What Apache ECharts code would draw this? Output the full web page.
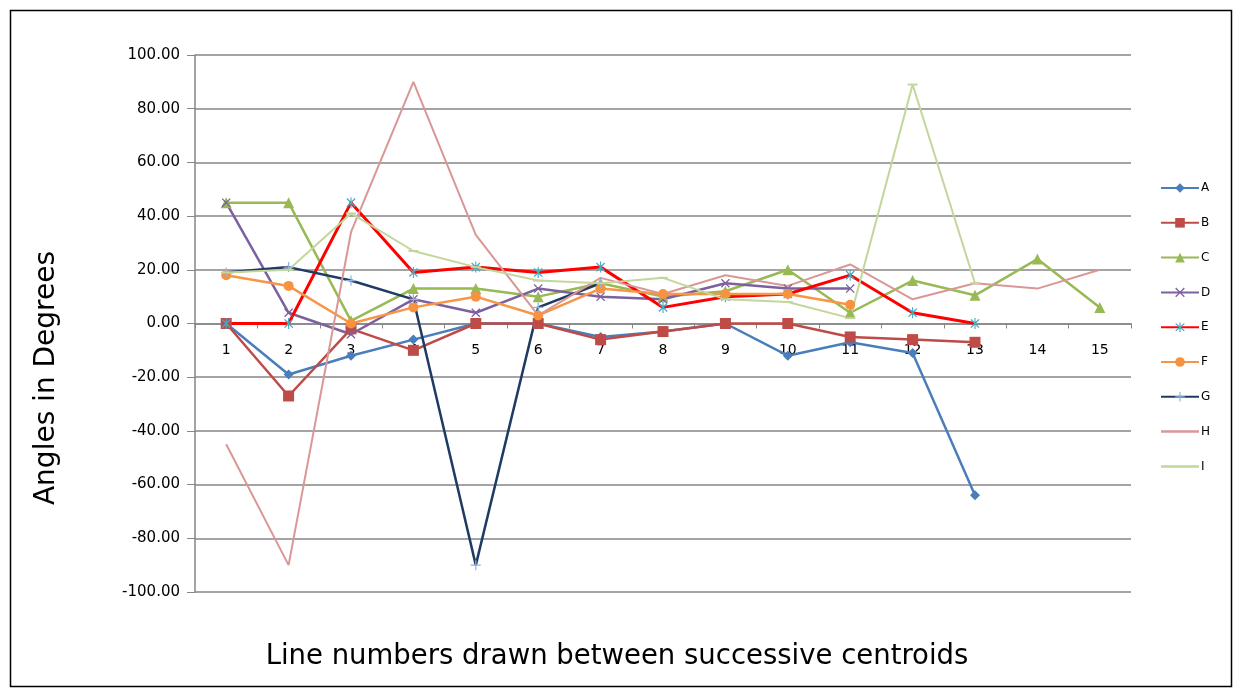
<!DOCTYPE html>
<html>
<head>
<meta charset="utf-8">
<script src="https://cdn.jsdelivr.net/npm/echarts@6/dist/echarts.min.js"></script>
<style>
html,body{margin:0;padding:0;background:#fff;}
#c{width:1237px;height:690px;}
</style>
</head>
<body>
<div id="c"></div>
<script>
const categories = ['1','2','3','4','5','6','7','8','9','10','11','12','13','14','15'];
const seriesNames = ['A','B','C','D','E','F','G','H','I'];
const A = [0,-19,-12,-6,0,0,-5,-3,0,-12,-7,-11,-64];
const B = [0,-27,-2,-10,0,0,-6,-3,0,0,-5,-6,-7];
const C = [45,45,1,13,13,10,15,10,12,20,4,16,10.5,24,6];
const D = [45,4,-4,9,4,13,10,9,15,13,13];
const E = [0,0,45,19,21,19,21,6,10,11,18,4,0];
const F = [18,14,0,6,10,3,13,11,11,11,7];
const G = [19,21,16,9,-90,6,15];
const H = [-45,-90,34,90,33,3,17,11,18,14,22,9,15,13,20];
const I = [19,20,41,27,21,16,15,17,9,8,2,89,15];
const yTicks = [-100,-80,-60,-40,-20,0,20,40,60,80,100];

const xPath = 'path://M1,0 L5,4 L9,0 L10,1 L6,5 L10,9 L9,10 L5,6 L1,10 L0,9 L4,5 L0,1 Z';
const starPath = 'path://M1,0 L5,4 L9,0 L10,1 L6,5 L10,9 L9,10 L5,6 L1,10 L0,9 L4,5 L0,1 Z M4.4,-1 L5.6,-1 L5.6,11 L4.4,11 Z';
const plusPath = 'path://M4.4,0 L5.6,0 L5.6,4.4 L10,4.4 L10,5.6 L5.6,5.6 L5.6,10 L4.4,10 L4.4,5.6 L0,5.6 L0,4.4 L4.4,4.4 Z';
const dashPath = 'path://M0,0 L10,0 L10,2 L0,2 Z';
const lineIcon = 'path://M0,0 L38,0 L38,2.5 L0,2.5 Z';

const data = {A,B,C,D,E,F,G,H,I};
const styles = {
  A:{line:'#4A7EBB', item:'#4A7EBB', symbol:'diamond', size:10, w:2.5},
  B:{line:'#BE4B48', item:'#BE4B48', symbol:'rect', size:11, w:2.5},
  C:{line:'#98B954', item:'#98B954', symbol:'triangle', size:11, w:2.5},
  D:{line:'#7D60A0', item:'#7D60A0', symbol:xPath, size:9, w:2.5},
  E:{line:'#FF0000', item:'#46AAC5', symbol:starPath, size:11, w:3},
  F:{line:'#F79646', item:'#F69240', symbol:'circle', size:10, w:2.5},
  G:{line:'#1F3B63', item:'#8DB3E2', symbol:plusPath, size:10, w:2.5},
  H:{line:'#D99795', item:'#D99795', symbol:'none', size:0, w:2},
  I:{line:'#C3D69B', item:'#C3D69B', symbol:dashPath, size:10, w:2}
};

const series = seriesNames.map(n => ({
  name:n, type:'line', data:data[n],
  symbol:styles[n].symbol, symbolSize:styles[n].size, showSymbol: styles[n].symbol!=='none',
  symbolKeepAspect:true,
  lineStyle:{color:styles[n].line, width:styles[n].w},
  itemStyle:{color:styles[n].item, borderWidth:0},
  emphasis:{disabled:true}, animation:false
}));

const legendData = seriesNames.map(n => (n === 'H' || n === 'I') ? {name:n, icon:lineIcon} : {name:n});

const chart = echarts.init(document.getElementById('c'), null, {renderer:'canvas'});
chart.setOption({
  backgroundColor:'#fff',
  animation:false,
  grid:{left:195, right:106, top:55, bottom:98},
  xAxis:{
    type:'category', data:categories, boundaryGap:true,
    position:'bottom', offset:-268.5,
    axisLine:{onZero:false, lineStyle:{color:'#868686', width:1.5}},
    axisTick:{show:true, length:5, lineStyle:{color:'#868686'}},
    axisLabel:{color:'#000', fontFamily:'DejaVu Sans', fontSize:14, margin:20},
    splitLine:{show:false}
  },
  yAxis:{
    type:'value', min:yTicks[0], max:yTicks[yTicks.length-1], interval:20,
    axisLine:{show:true, lineStyle:{color:'#868686', width:1.5}},
    axisTick:{show:true, length:8, lineStyle:{color:'#868686'}},
    axisLabel:{color:'#000', fontFamily:'DejaVu Sans', fontSize:15, margin:15, formatter:v=>v.toFixed(2)},
    splitLine:{show:true, lineStyle:{color:'#868686', width:1.5}}
  },
  legend:{
    orient:'vertical', left:1155, top:177, itemWidth:38, itemHeight:12, itemGap:22.8,
    symbolKeepAspect:true,
    textStyle:{color:'#000', fontFamily:'DejaVu Sans', fontSize:12, padding:[0,0,0,-3]},
    data:legendData
  },
  graphic:[
    {type:'rect', left:8, top:8, shape:{width:1221, height:676}, style:{fill:'none', stroke:'#000', lineWidth:1.5}},
    {type:'text', x:617, y:657, style:{text:'Line numbers drawn between successive centroids', font:'27.5px "DejaVu Sans"', fill:'#000', textAlign:'center', textVerticalAlign:'middle'}},
    {type:'text', x:47, y:378, rotation:Math.PI/2, style:{text:'Angles in Degrees', font:'28px "DejaVu Sans"', fill:'#000', textAlign:'center', textVerticalAlign:'middle'}}
  ],
  series:series
});
</script>
</body>
</html>
